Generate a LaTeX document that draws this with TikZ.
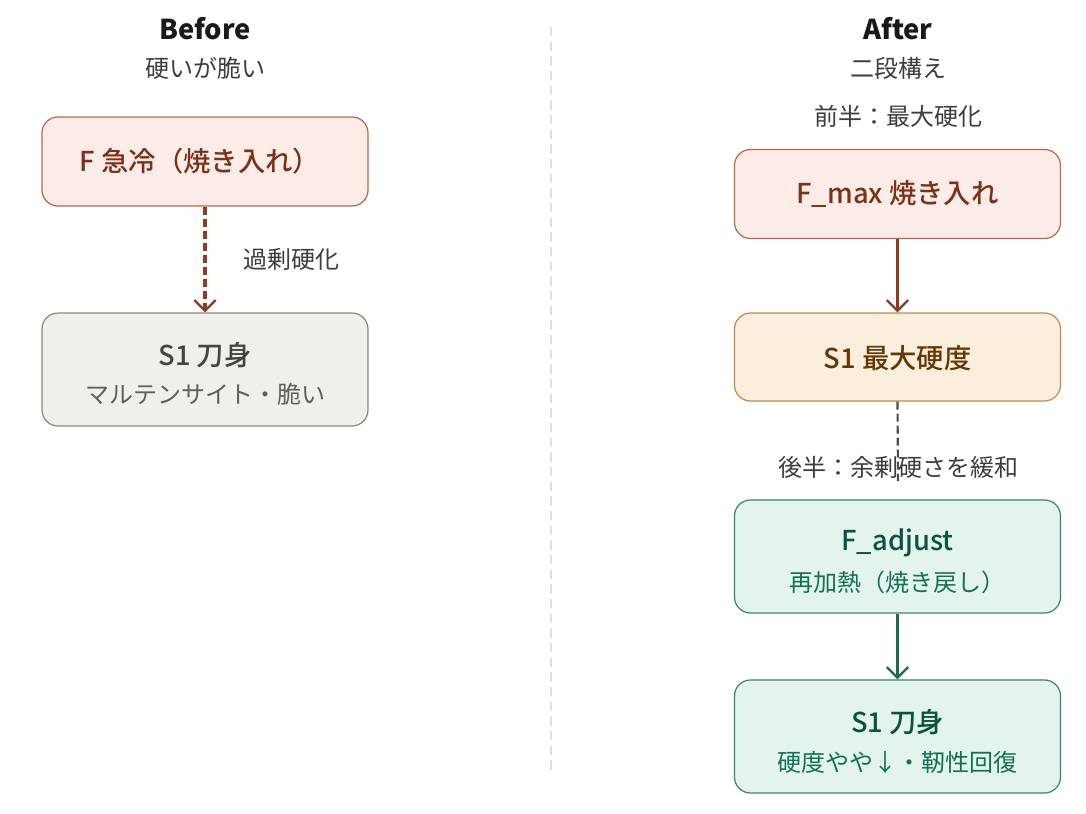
\documentclass[tikz,border=0pt]{standalone}
\usepackage{fontspec}
\setmainfont{Noto Sans CJK JP}[BoldFont={Noto Sans CJK JP Medium}]
\newfontfamily\titlefont{Noto Sans CJK JP}
\usetikzlibrary{arrows.meta}
\definecolor{pinkfill}{HTML}{FCECE8}
\definecolor{pinkdraw}{HTML}{B8674F}
\definecolor{redtext}{HTML}{7A3218}
\definecolor{redline}{HTML}{8E3B24}
\definecolor{grayfill}{HTML}{F1EFEA}
\definecolor{graydraw}{HTML}{8A8883}
\definecolor{graytext}{HTML}{444441}
\definecolor{graysub}{HTML}{5F5E5A}
\definecolor{orfill}{HTML}{FCEEDC}
\definecolor{ordraw}{HTML}{C28A4C}
\definecolor{ortext}{HTML}{633806}
\definecolor{grfill}{HTML}{E2F4EC}
\definecolor{grdraw}{HTML}{3A8466}
\definecolor{grtext}{HTML}{0B5240}
\definecolor{grsub}{HTML}{127055}
\definecolor{grline}{HTML}{1D6A50}
\definecolor{lbl}{HTML}{3D3D3A}
\tikzset{
  box/.style={rounded corners=12, line width=0.9pt, minimum width=326*0.75pt, align=center, inner sep=0pt},
  pinkbox/.style={box, fill=pinkfill, draw=pinkdraw, minimum height=89*0.75pt},
  graybox/.style={box, fill=grayfill, draw=graydraw, minimum height=113*0.75pt},
  orbox/.style={box, fill=orfill, draw=ordraw, minimum height=88*0.75pt},
  grbox/.style={box, fill=grfill, draw=grdraw, minimum height=113*0.75pt},
  ttl/.style={font=\titlefont\fontsize{20.5}{25}\selectfont\bfseries, text=black!90},
  sub/.style={font=\fontsize{18}{22}\selectfont, text=lbl},
  main/.style={font=\fontsize{20.5}{24}\selectfont\bfseries},
  small/.style={font=\fontsize{18}{22}\selectfont},
  chev/.style={-{Straight Barb[length=8pt, width=16pt, line width=1.8pt]}},
}
\begin{document}
\begin{tikzpicture}[x=0.75pt, y=-0.75pt]
\useasboundingbox (0,0) rectangle (1086,814);
\fill[white] (0,0) rectangle (1086,814);
% divider
\coordinate (dtop) at (551,27);
\coordinate (dbot) at (551,773);
\draw[color=black!12, line width=1pt, dash pattern=on 7pt off 4pt] (dtop) -- (dbot);
% Before
\node[ttl] (bt) at (205,29) {Before};
\node[sub] (bs) at (205,68) {硬いが脆い};
\node[pinkbox] (bf) at (205,161.5) {};
\node[main, text=redtext] (bft) at (200,161.5) {F 急冷（焼き入れ）};
\node[graybox] (bs1) at (205,369.5) {};
\node[main, text=graytext] (bs1t) at (205,355) {S1 刀身};
\node[small, text=graysub] (bs1s) at (205,394) {マルテンサイト・脆い};
\draw[redline, line width=2.3pt, dash pattern=on 6pt off 3pt, chev] (bf.south) -- (bs1.north);
\node[sub] (bl) at (291,259) {過剰硬化};
% After
\node[ttl] (at) at (898,29) {After};
\node[sub] (as) at (898,68) {二段構え};
\node[sub] (al1) at (898,116) {前半：最大硬化};
\node[pinkbox] (af) at (897.5,194) {};
\node[main, text=redtext] (aft) at (897.5,194) {F\_max 焼き入れ};
\node[orbox] (as1) at (897.5,357) {};
\node[main, text=ortext] (as1t) at (897.5,358) {S1 最大硬度};
\draw[redline, line width=2.8pt, chev] (af.south) -- (as1.north);
\node[sub] (al2) at (898,467) {後半：余剰硬さを緩和};
\coordinate (dend) at (898,481);
\draw[black!70, line width=1.6pt, dash pattern=on 6pt off 3pt] (as1.south) -- (dend);
\node[grbox] (aadj) at (897.5,556.5) {};
\node[main, text=grtext] (aadjt) at (897.5,543) {F\_adjust};
\node[small, text=grsub] (aadjs) at (897.5,582) {再加熱（焼き戻し）};
\node[grbox] (as2) at (897.5,736.5) {};
\node[main, text=grtext] (as2t) at (897.5,722) {S1 刀身};
\node[small, text=grsub] (as2s) at (897.5,762) {硬度やや↓・靭性回復};
\draw[grline, line width=2.2pt, chev] (aadj.south) -- (as2.north);
\end{tikzpicture}
\end{document}
